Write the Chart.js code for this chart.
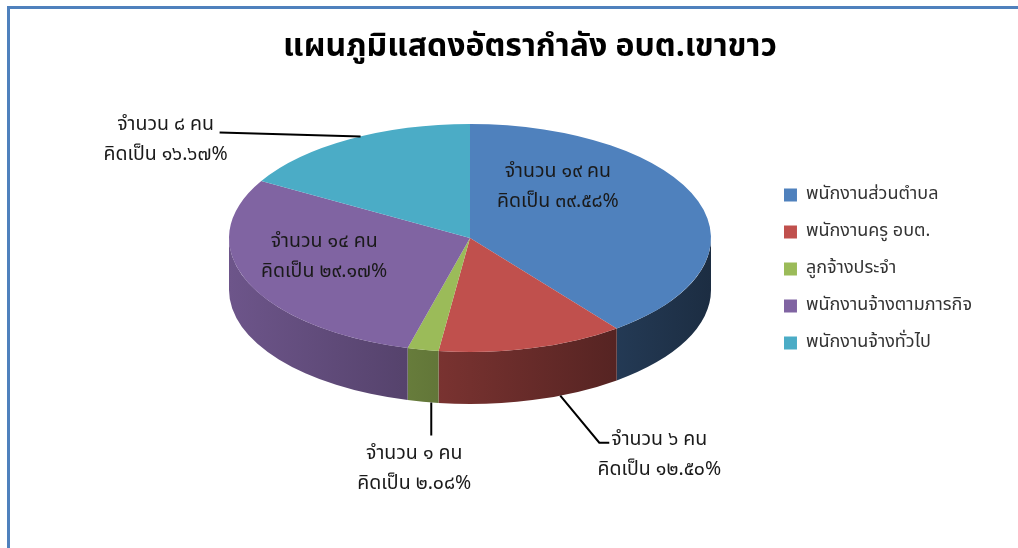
<!DOCTYPE html>
<html lang="th">
<head>
<meta charset="utf-8">
<title>แผนภูมิแสดงอัตรากำลัง อบต.เขาขาว</title>
<script src="https://cdn.jsdelivr.net/npm/chart.js@4.4.1/dist/chart.umd.min.js"></script>
<style>
  html, body { margin: 0; padding: 0; background: #fff; }
  #wrap { position: relative; width: 1018px; height: 548px; overflow: hidden; }
  #frame { position: absolute; left: 7px; top: 6px; width: 1040px; height: 560px; box-sizing: border-box;
           border-top: 3px solid #4f81bd; border-left: 3px solid #4f81bd; }
  #chart { position: absolute; left: 0; top: 0; }
</style>
</head>
<body>
<div id="wrap">
  <div id="frame"></div>
  <canvas id="chart" width="1018" height="548"></canvas>
</div>
<script>
const chartTitle = 'แผนภูมิแสดงอัตรากำลัง อบต.เขาขาว';
const categories = ['พนักงานส่วนตำบล', 'พนักงานครู อบต.', 'ลูกจ้างประจำ', 'พนักงานจ้างตามภารกิจ', 'พนักงานจ้างทั่วไป'];
const headcount = [19, 6, 1, 14, 8];
const sliceColors = ['#4f81bd', '#c0504d', '#9bbb59', '#8064a2', '#4bacc6'];

const thaiFont = 'Tahoma, "Noto Sans Thai", "Noto Sans", sans-serif';

// shape of the tilted disc on the page
const disc = { cx: 470, cy: 238, rx: 241, ry: 114, depth: 52 };

// where each data label goes (turn = degrees away from the slice middle)
const labelSpots = [
    { inside: true, turn: -31.5, r: 0.57 },
    { inside: false, turn: -7, wall: true, bend: [[39, 47], [49, 47]], text: [99, 60] },
    { inside: false, turn: -2, wall: true, bend: [[0, 33]], text: [-17, 68] },
    { inside: true, turn: 6.3, r: 0.63 },
    { inside: false, turn: 3, wall: false, bend: [[-141, -4]], text: [-195, 5] }
];

function thaiDigits(v) {
    return String(v).replace(/[0-9]/g, d => '๐๑๒๓๔๕๖๗๘๙'[d]);
}

function shade(hex, f) {
    const n = parseInt(hex.slice(1), 16);
    const r = Math.round(((n >> 16) & 255) * f);
    const g = Math.round(((n >> 8) & 255) * f);
    const b = Math.round((n & 255) * f);
    return `rgb(${r},${g},${b})`;
}

const discPlugin = {
    id: 'disc',
    // side wall of the disc, only the part that faces us
    beforeDatasetsDraw(chart) {
        const ctx = chart.ctx;
        const { cx, cy, rx, ry, depth } = disc;
        chart.getDatasetMeta(0).data.forEach((arc, i) => {
            for (let k = -1; k <= 1; k++) {
                const lo = Math.max(arc.startAngle, 2 * Math.PI * k);
                const hi = Math.min(arc.endAngle, 2 * Math.PI * k + Math.PI);
                if (hi <= lo) continue;
                const grad = ctx.createLinearGradient(cx - rx, 0, cx + rx, 0);
                grad.addColorStop(0, shade(sliceColors[i], 0.85));
                grad.addColorStop(1, shade(sliceColors[i], 0.35));
                ctx.beginPath();
                ctx.ellipse(cx, cy, rx, ry, 0, lo, hi);
                ctx.ellipse(cx, cy + depth, rx, ry, 0, hi, lo, true);
                ctx.closePath();
                ctx.fillStyle = grad;
                ctx.fill();
            }
        });
    },
    // squash the pie into the top face
    beforeDatasetDraw(chart) {
        const arc = chart.getDatasetMeta(0).data[0];
        const ctx = chart.ctx;
        ctx.save();
        ctx.translate(disc.cx, disc.cy);
        ctx.scale(disc.rx / arc.outerRadius, disc.ry / arc.outerRadius);
        ctx.translate(-arc.x, -arc.y);
    },
    afterDatasetDraw(chart) {
        chart.ctx.restore();
    },
    afterDatasetsDraw(chart) {
        const ctx = chart.ctx;
        const total = headcount.reduce((s, v) => s + v, 0);
        ctx.save();
        ctx.font = `19.5px ${thaiFont}`;
        ctx.fillStyle = '#1a1a1a';
        ctx.strokeStyle = '#000';
        ctx.lineWidth = 2;
        ctx.textAlign = 'center';
        ctx.textBaseline = 'middle';
        chart.getDatasetMeta(0).data.forEach((arc, i) => {
            const spot = labelSpots[i];
            const a = (arc.startAngle + arc.endAngle) / 2 + spot.turn * Math.PI / 180;
            const pct = (headcount[i] / total * 100).toFixed(2);
            let tx, ty;
            if (spot.inside) {
                tx = disc.cx + disc.rx * spot.r * Math.cos(a);
                ty = disc.cy + disc.ry * spot.r * Math.sin(a);
            } else {
                const sx = disc.cx + disc.rx * Math.cos(a);
                const sy = disc.cy + disc.ry * Math.sin(a) + (spot.wall ? disc.depth : 0);
                ctx.beginPath();
                ctx.moveTo(sx, sy);
                spot.bend.forEach(([dx, dy]) => ctx.lineTo(sx + dx, sy + dy));
                ctx.stroke();
                tx = sx + spot.text[0];
                ty = sy + spot.text[1];
            }
            ctx.fillText(`จำนวน ${thaiDigits(headcount[i])} คน`, tx, ty - 15);
            ctx.fillText(`คิดเป็น ${thaiDigits(pct)}%`, tx, ty + 15);
        });
        ctx.restore();
    }
};

new Chart(document.getElementById('chart'), {
    type: 'pie',
    data: {
        labels: categories,
        datasets: [{
            data: headcount,
            backgroundColor: sliceColors,
            borderWidth: 0,
            hoverOffset: 0
        }]
    },
    options: {
        responsive: false,
        animation: false,
        events: [],
        layout: { padding: { left: 78, right: 36, top: 0, bottom: 10 } },
        plugins: {
            title: {
                display: true,
                text: chartTitle,
                color: '#000',
                font: { family: thaiFont, size: 32, weight: 'bold' },
                padding: { top: 30, bottom: 6 }
            },
            legend: {
                position: 'right',
                labels: {
                    color: '#333',
                    font: { family: thaiFont, size: 18 },
                    boxWidth: 13,
                    boxHeight: 13,
                    padding: 19
                }
            },
            tooltip: { enabled: false }
        }
    },
    plugins: [discPlugin]
});
</script>
</body>
</html>
